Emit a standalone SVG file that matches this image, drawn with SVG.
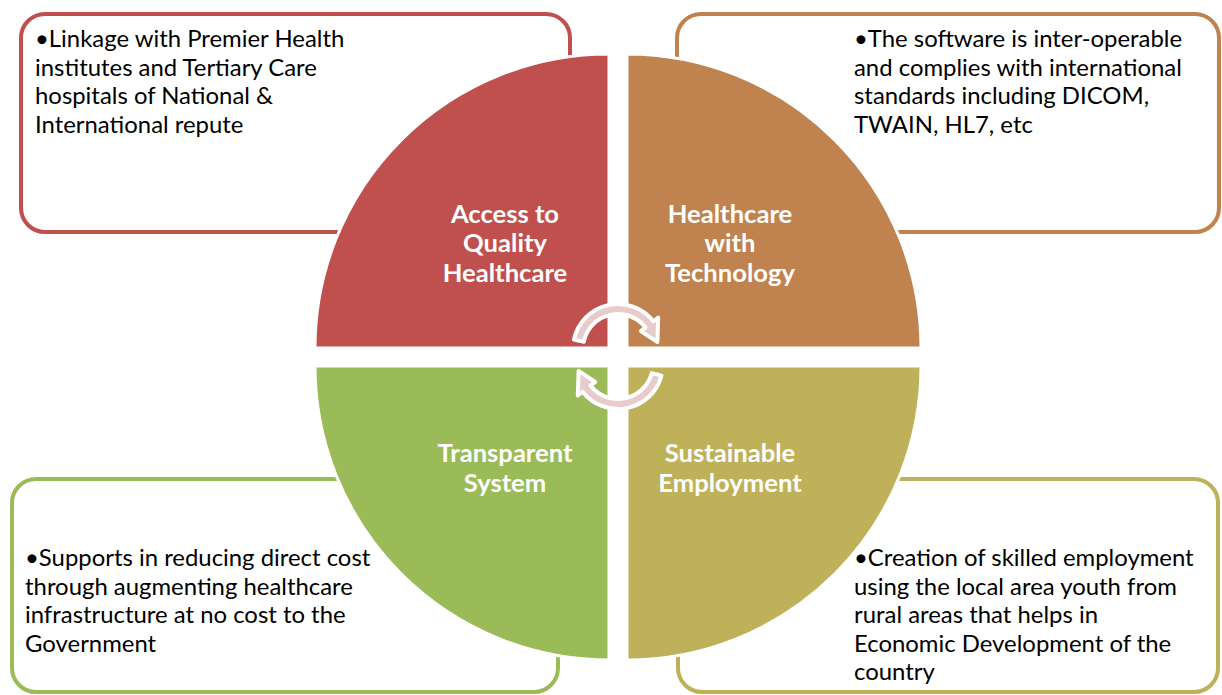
<svg xmlns="http://www.w3.org/2000/svg" width="1222" height="695" viewBox="0 0 1222 695">
  <style>
    .box { fill: #FFFFFF; stroke-width: 4; }
    .quad { stroke: #FFFFFF; stroke-width: 3; }
    .body { font-family: Lato, "Open Sans", "Liberation Sans", sans-serif; font-size: 23.9px; fill: #000000; }
    .label { font-family: Lato, "Open Sans", "Liberation Sans", sans-serif; font-size: 25.6px; font-weight: bold; fill: #FFFFFF; text-anchor: middle; }
    .cyc { fill: #E8CBCB; stroke: #FFFFFF; stroke-width: 4; stroke-linejoin: round; }
  </style>
  <rect width="1222" height="695" fill="#FFFFFF"/>

  <!-- text boxes, drawn beneath the circle quarters -->
  <g id="box-access">
    <rect class="box" x="21" y="14" width="549" height="218" rx="24" stroke="#C0504D"/>
    <text class="body">
      <tspan x="35" y="47">•Linkage with Premier Health</tspan>
      <tspan x="35" y="75.5">institutes and Tertiary Care</tspan>
      <tspan x="35" y="104">hospitals of National &amp;</tspan>
      <tspan x="35" y="132.5">International repute</tspan>
    </text>
  </g>
  <g id="box-technology">
    <rect class="box" x="677" y="14" width="542" height="218" rx="24" stroke="#C0834F"/>
    <text class="body">
      <tspan x="854" y="47">•The software is inter-operable</tspan>
      <tspan x="854" y="75.5">and complies with international</tspan>
      <tspan x="854" y="104">standards including DICOM,</tspan>
      <tspan x="854" y="132.5">TWAIN, HL7, etc</tspan>
    </text>
  </g>
  <g id="box-transparent">
    <rect class="box" x="12" y="479" width="546" height="213" rx="24" stroke="#9BBB59"/>
    <text class="body">
      <tspan x="25" y="566">•Supports in reducing direct cost</tspan>
      <tspan x="25" y="594.5">through augmenting healthcare</tspan>
      <tspan x="25" y="623">infrastructure at no cost to the</tspan>
      <tspan x="25" y="651.5">Government</tspan>
    </text>
  </g>
  <g id="box-employment">
    <rect class="box" x="678" y="479" width="540" height="213" rx="24" stroke="#BFB15A"/>
    <text class="body">
      <tspan x="854" y="566">•Creation of skilled employment</tspan>
      <tspan x="854" y="594.5">using the local area youth from</tspan>
      <tspan x="854" y="623">rural areas that helps in</tspan>
      <tspan x="854" y="651.5">Economic Development of the</tspan>
      <tspan x="854" y="680">country</tspan>
    </text>
  </g>

  <!-- circle quarters -->
  <g id="quad-access">
    <path class="quad" d="M609,348 L315,348 A294,294 0 0 1 609,54 Z" fill="#C0504D"/>
    <text class="label"><tspan x="505" y="223">Access to</tspan><tspan x="505" y="252">Quality</tspan><tspan x="505" y="282">Healthcare</tspan></text>
  </g>
  <g id="quad-technology">
    <path class="quad" d="M627,348 L627,54 A294,294 0 0 1 921,348 Z" fill="#C0834F"/>
    <text class="label"><tspan x="730" y="223">Healthcare</tspan><tspan x="730" y="252">with</tspan><tspan x="730" y="282">Technology</tspan></text>
  </g>
  <g id="quad-transparent">
    <path class="quad" d="M609,366 L609,660 A294,294 0 0 1 315,366 Z" fill="#9BBB59"/>
    <text class="label"><tspan x="505" y="462">Transparent</tspan><tspan x="505" y="492">System</tspan></text>
  </g>
  <g id="quad-employment">
    <path class="quad" d="M627,366 L921,366 A294,294 0 0 1 627,660 Z" fill="#BFB15A"/>
    <text class="label"><tspan x="730" y="462">Sustainable</tspan><tspan x="730" y="492">Employment</tspan></text>
  </g>

  <!-- cycle arrows in the centre -->
  <g id="connectors">
    <path class="cyc" d="M573.98,339.64 A45,45 0 0 1 653.46,321.29 L658.19,317.60 L657.39,342.05 L640.85,331.14 L645.58,327.45 A35,35 0 0 0 583.77,341.72 Z"/>
    <path class="cyc" d="M661.47,375.65 A45,45 0 0 1 582.54,391.71 L577.81,395.40 L578.61,370.95 L595.15,381.86 L590.42,385.55 A35,35 0 0 0 651.81,373.06 Z"/>
  </g>
</svg>
